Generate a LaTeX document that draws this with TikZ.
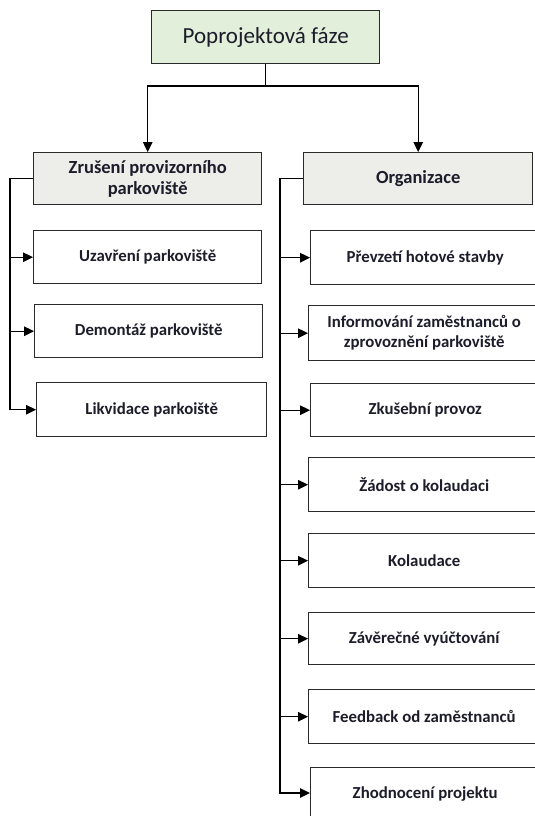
\documentclass[tikz,border=0pt]{standalone}
\usepackage{fontspec}
\setmainfont{Carlito}
\usetikzlibrary{arrows.meta}
\definecolor{txt}{HTML}{1C1C2A}
\definecolor{titlefill}{HTML}{E2EFDA}
\definecolor{midfill}{HTML}{EDEDEA}
\definecolor{edge}{HTML}{2A2A2A}
\tikzset{
  box/.style={draw=edge, line width=1.4pt, anchor=north west, inner sep=2pt,
    align=center, text=txt, font=\bfseries\fontsize{16.8}{20}\selectfont},
  titlebox/.style={box, fill=titlefill, font=\fontsize{23}{27}\selectfont},
  midbox/.style={box, fill=midfill, font=\bfseries\fontsize{18.5}{21}\selectfont},
  arr/.style={line width=1.4pt, draw=black, -{Triangle[length=10pt,width=9.5pt]}},
  ln/.style={line width=1.4pt, draw=black}
}
\begin{document}
\begin{tikzpicture}[x=1pt,y=-1pt]
\useasboundingbox (0,0) rectangle (535,816);
\clip (0,0) rectangle (535,816);
\node[titlebox, minimum width=228pt, minimum height=53pt] (t) at (151,10) {Poprojektová fáze};
\node[midbox, minimum width=228pt, minimum height=52pt] (z) at (33,152) {Zrušení provizorního\\parkoviště};
\node[midbox, minimum width=229pt, minimum height=52pt] (o) at (303,152) {Organizace};
\node[box, minimum width=228pt, minimum height=53pt] (l1) at (33,230) {Uzavření parkoviště};
\node[box, minimum width=228pt, minimum height=53pt] (l2) at (34,304) {Demontáž parkoviště};
\node[box, minimum width=230pt, minimum height=54pt] (l3) at (36,382) {Likvidace parkoiště};
\node[box, minimum width=229pt, minimum height=54pt] (r1) at (310,230) {Převzetí hotové stavby};
\node[box, minimum width=231pt, minimum height=55pt] (r2) at (308,305) {Informování zaměstnanců o\\zprovoznění parkoviště};
\node[box, minimum width=229pt, minimum height=53pt] (r3) at (310,383) {Zkušební provoz};
\node[box, minimum width=231pt, minimum height=54pt] (r4) at (308,457) {Žádost o kolaudaci};
\node[box, minimum width=231pt, minimum height=54pt] (r5) at (308,533) {Kolaudace};
\node[box, minimum width=231pt, minimum height=52pt] (r6) at (308,612) {Závěrečné vyúčtování};
\node[box, minimum width=231pt, minimum height=54pt] (r7) at (308,689) {Feedback od zaměstnanců};
\node[box, minimum width=229pt, minimum height=53pt] (r8) at (310,767) {Zhodnocení projektu};
\coordinate (bus) at (0,86);
\coordinate (lbx) at (10,0);
\coordinate (rbx) at (280,0);
\draw[ln] (t.south) -- (t.south |- bus);
\draw[arr] (t.south |- bus) -| (z.north);
\draw[arr] (t.south |- bus) -| (o.north);
\foreach \n in {l1,l2,l3}{
  \draw[arr] (z.west) -- (z.west -| lbx) |- (\n.west);
}
\foreach \n in {r1,r2,r3,r4,r5,r6,r7}{
  \draw[arr] (o.west) -- (o.west -| rbx) |- (\n.west);
}
\coordinate (r8a) at (310,793);
\draw[arr] (o.west) -- (o.west -| rbx) |- (r8a);
\end{tikzpicture}
\end{document}
